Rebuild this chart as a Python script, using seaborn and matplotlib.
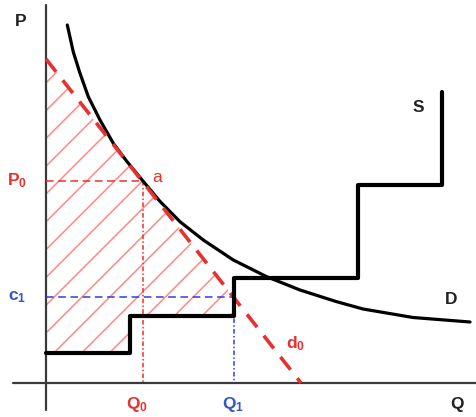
import numpy as np
import pandas as pd
import matplotlib
matplotlib.use("Agg")
import matplotlib.pyplot as plt
import seaborn as sns
from matplotlib.patches import Polygon
from matplotlib.collections import LineCollection

# Demand curve D (quantity, price)
D_q = [21.3, 27.3, 34, 42.3, 54, 67.3, 80.7, 95.7, 114, 134, 157.3, 187.3,
       220.7, 254, 290, 317, 367, 424]
D_p = [358, 331, 309.7, 286.3, 263, 239.7, 221.8, 203.5, 181.6, 161.3, 143,
       123, 106.3, 93, 81.5, 74, 65.5, 61]

# Linear demand d0: end points on the two axes
d0_q = [0, 255]
d0_p = [324, 0]

# Stepped supply curve S (steps-post)
S_q = [0, 84, 188, 312, 396]
S_p = [30, 67, 105, 198, 291]

# Marked levels
P0, Q0 = 202, 97
c1, Q1 = 86, 188

RED = "#e8302e"
RED_LIGHT = "#ff6b6b"
BLUE = "#2d3fdc"
BLUE_TXT = "#3556c8"

sns.set_theme(style="white")
plt.rcParams["font.family"] = ["Liberation Sans", "DejaVu Sans"]
plt.rcParams["mathtext.fontset"] = "custom"
plt.rcParams["mathtext.rm"] = "Liberation Sans:bold"
plt.rcParams["mathtext.default"] = "rm"

fig = plt.figure(figsize=(4.77, 4.17), dpi=100)
ax = fig.add_axes([0, 0, 1, 1])

# Axes lines
ax.plot([0, 0], [-27, 378], color="#3a3a3a", lw=1.6, zorder=2)
ax.plot([-33, 431], [0, 0], color="#3a3a3a", lw=1.6, zorder=2)

# Hatched surplus area between d0 and the supply steps
d0_at_Q1 = np.interp(Q1, d0_q, d0_p)
region = Polygon([(0, S_p[0]), (0, d0_p[0]), (Q1, d0_at_Q1), (Q1, S_p[1]),
                  (S_q[1], S_p[1]), (S_q[1], S_p[0])],
                 closed=True, facecolor="none", edgecolor="none")
ax.add_patch(region)
offsets = 50 + 27.8 * np.arange(-9, 12)
segs = [[(-10, -10 + c), (260, 260 + c)] for c in offsets]
hatch = LineCollection(segs, colors=RED_LIGHT, linewidths=1.1, alpha=0.8, zorder=1)
ax.add_collection(hatch)
hatch.set_clip_path(region)

# Guide lines
ax.plot([0, Q0], [P0, P0], color=RED, lw=1.1, ls=(0, (5, 3)), zorder=3)
ax.plot([Q0, Q0], [P0, 0], color=RED, lw=1.1, ls=(0, (3, 1.5, 1, 1.5)), zorder=3)
ax.plot([0, Q1], [c1, c1], color=BLUE, lw=1.1, ls=(0, (5, 3)), zorder=3)
ax.plot([Q1, Q1], [c1, 0], color=BLUE, lw=1.1, ls=(0, (3, 1.5, 1, 1.5)), zorder=3)

# Curves
df_D = pd.DataFrame({"Q": D_q, "P": D_p})
sns.lineplot(data=df_D, x="Q", y="P", sort=False, color="black", lw=2.3,
             solid_joinstyle="round", ax=ax, zorder=4)
df_d0 = pd.DataFrame({"Q": d0_q, "P": d0_p})
sns.lineplot(data=df_d0, x="Q", y="P", sort=False, color=RED, lw=2.6,
             ls=(0, (4.5, 3)), ax=ax, zorder=5)
df_S = pd.DataFrame({"Q": S_q, "P": S_p})
sns.lineplot(data=df_S, x="Q", y="P", sort=False, color="black", lw=3.0,
             drawstyle="steps-post", ax=ax, zorder=6)
ax.set_xlim(-46, 431)
ax.set_ylim(-34, 383)
ax.axis("off")

fs = 12.5
kw = dict(ha="center", va="center", fontsize=fs, fontweight="bold")
ax.text(-25, 362, "P", color="#222222", **kw)
ax.text(411, -21, "Q", color="#222222", **kw)
ax.text(-29, P0, r"$P_0$", color=RED, **kw)
ax.text(-29, c1, r"$c_1$", color=BLUE_TXT, **kw)
ax.text(Q0 - 6, -21, r"$Q_0$", color=RED, **kw)
ax.text(Q1 - 1, -21, r"$Q_1$", color=BLUE_TXT, **kw)
ax.text(111, 206, "a", color=RED, ha="center", va="center", fontsize=fs)
ax.text(250, 39, r"$d_0$", color=RED, **kw)
ax.text(405, 83, "D", color="#222222", **kw)
ax.text(372, 276, "S", color="#222222", **kw)

fig.savefig("out.png", dpi=100)
